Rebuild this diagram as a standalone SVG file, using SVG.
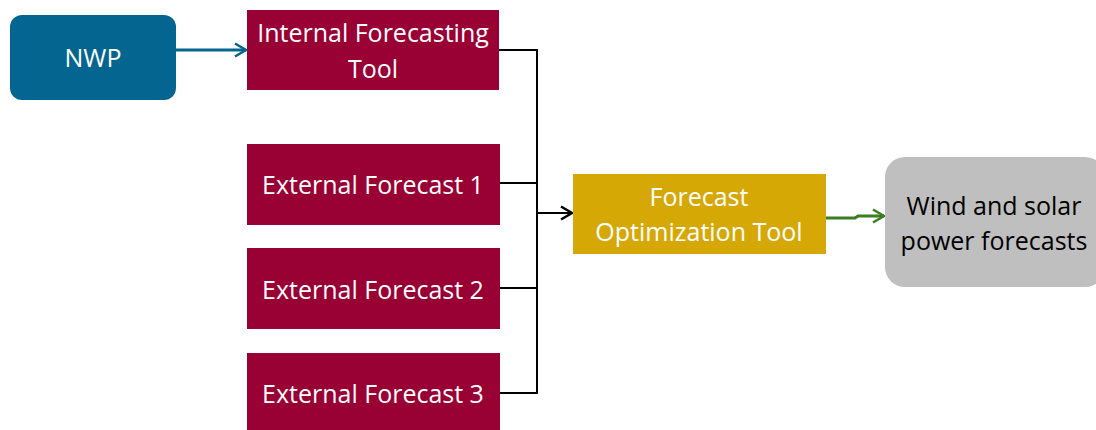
<svg xmlns="http://www.w3.org/2000/svg" width="1096" height="430" viewBox="0 0 1096 430">
<style>
.lbl{font-family:"Open Sans","Liberation Sans",sans-serif;font-size:25px;text-anchor:middle;fill:#ffffff}
.dark{fill:#000000}
.red{fill:#990033}
.conn{fill:none;stroke-linejoin:miter}
</style>
<defs>
<marker id="ab" markerWidth="16" markerHeight="16" refX="13" refY="8" orient="auto" markerUnits="userSpaceOnUse"><path d="M2,1.5 L13,8 L2,14.5" fill="none" stroke="#036590" stroke-width="2.5"/></marker>
<marker id="ak" markerWidth="16" markerHeight="16" refX="13" refY="8" orient="auto" markerUnits="userSpaceOnUse"><path d="M2,1.5 L13,8 L2,14.5" fill="none" stroke="#000" stroke-width="2.5"/></marker>
<marker id="ag" markerWidth="16" markerHeight="16" refX="13" refY="8" orient="auto" markerUnits="userSpaceOnUse"><path d="M2,1.5 L13,8 L2,14.5" fill="none" stroke="#3b7d23" stroke-width="2.5"/></marker>
</defs>
<rect width="1096" height="430" fill="#ffffff"/>
<g id="connectors">
<line x1="176" y1="50" x2="246" y2="50" stroke="#036590" stroke-width="3" marker-end="url(#ab)"/>
<polyline class="conn" points="499,50 537,50 537,393 500,393" stroke="#000" stroke-width="2"/>
<line x1="500" y1="183" x2="537" y2="183" stroke="#000" stroke-width="2"/>
<line x1="500" y1="288" x2="537" y2="288" stroke="#000" stroke-width="2"/>
<line x1="537" y1="213" x2="572" y2="213" stroke="#000" stroke-width="2" marker-end="url(#ak)"/>
<polyline class="conn" points="826,218 855,218 858,216 884,216" stroke="#3b7d23" stroke-width="3" marker-end="url(#ag)"/>
</g>
<g id="nwp">
<rect x="10" y="15" width="166" height="85" rx="12" fill="#036590"/>
<text class="lbl" x="93" y="67">NWP</text>
</g>
<g id="internal">
<rect class="red" x="247" y="10" width="252" height="80"/>
<text class="lbl" x="373" y="42">Internal Forecasting</text>
<text class="lbl" x="373" y="78">Tool</text>
</g>
<g id="ext1">
<rect class="red" x="247" y="144" width="253" height="81"/>
<text class="lbl" x="373" y="194">External Forecast 1</text>
</g>
<g id="ext2">
<rect class="red" x="247" y="248" width="253" height="81"/>
<text class="lbl" x="373" y="299">External Forecast 2</text>
</g>
<g id="ext3">
<rect class="red" x="247" y="353" width="253" height="81"/>
<text class="lbl" x="373" y="403">External Forecast 3</text>
</g>
<g id="fot">
<rect x="573" y="174" width="253" height="80" fill="#d6a806"/>
<text class="lbl" x="699" y="206">Forecast</text>
<text class="lbl" x="699" y="241">Optimization Tool</text>
</g>
<g id="wind">
<rect x="885" y="157" width="220" height="130" rx="20" fill="#bfbfbf"/>
<text class="lbl dark" x="994" y="215">Wind and solar</text>
<text class="lbl dark" x="994" y="250">power forecasts</text>
</g>
</svg>
